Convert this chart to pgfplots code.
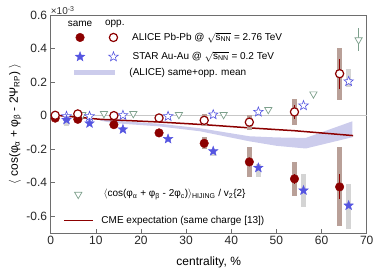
\documentclass[border=0pt]{standalone}
\usepackage{pgfplots}
\pgfplotsset{compat=1.18}
\usepackage{fontspec}
\setmainfont{Liberation Sans}
\definecolor{alice}{RGB}{140,0,0}
\definecolor{alicesys}{RGB}{185,160,152}
\definecolor{starc}{RGB}{85,85,225}
\definecolor{starsys}{RGB}{212,212,212}
\definecolor{hij}{RGB}{125,160,140}
\definecolor{bandc}{RGB}{204,204,236}
\definecolor{axgray}{RGB}{110,110,110}
\pgfdeclareplotmark{star5}{%
  \pgfpathmoveto{\pgfpointpolar{90}{\pgfplotmarksize}}%
  \pgfpathlineto{\pgfpointpolar{126}{0.42\pgfplotmarksize}}%
  \pgfpathlineto{\pgfpointpolar{162}{\pgfplotmarksize}}%
  \pgfpathlineto{\pgfpointpolar{198}{0.42\pgfplotmarksize}}%
  \pgfpathlineto{\pgfpointpolar{234}{\pgfplotmarksize}}%
  \pgfpathlineto{\pgfpointpolar{270}{0.42\pgfplotmarksize}}%
  \pgfpathlineto{\pgfpointpolar{306}{\pgfplotmarksize}}%
  \pgfpathlineto{\pgfpointpolar{342}{0.42\pgfplotmarksize}}%
  \pgfpathlineto{\pgfpointpolar{18}{\pgfplotmarksize}}%
  \pgfpathlineto{\pgfpointpolar{54}{0.42\pgfplotmarksize}}%
  \pgfpathclose
  \pgfusepathqfillstroke}

% ALICE: centrality, value, stat, syst half-width
\pgfplotstableread{
c v s b
1 -0.015 0.01 0.01
6 -0.022 0.01 0.01
14 -0.054 0.01 0.01
24 -0.103 0.01 0.012
34 -0.165 0.015 0.036
44 -0.276 0.02 0.09
54 -0.377 0.03 0.1
64 -0.425 0.075 0.235
}\alicesame
\pgfplotstableread{
c v s b
1 0.002 0.01 0.01
6 0.01 0.01 0.01
14 0.0 0.01 0.01
24 -0.014 0.01 0.012
34 -0.028 0.015 0.035
44 -0.039 0.02 0.045
54 0.022 0.04 0.08
64 0.25 0.09 0.155
}\aliceopp
% STAR: centrality, value, box centre, box half-width
\pgfplotstableread{
c v bc b
3.5 -0.025 -0.044 0.02
8.6 -0.046 -0.05 0.01
16 -0.082 -0.085 0.01
26 -0.139 -0.14 0.01
36 -0.212 -0.218 0.02
46 -0.311 -0.328 0.037
56 -0.446 -0.448 0.097
66 -0.536 -0.542 0.137
}\starsame
\pgfplotstableread{
c v bc b
3.5 -0.004 -0.004 0.005
8.6 -0.004 -0.004 0.005
16 0.002 0.002 0.005
26 -0.004 -0.004 0.005
36 0.006 0.006 0.005
46 0.022 0.022 0.005
56 0.06 0.06 0.005
66 0.204 0.224 0.054
}\staropp
\pgfplotstableread{
c v e
7.0 0.006 0
11.8 0.012 0
18.3 0.012 0
28.4 0.006 0
38.3 0.006 0
48.2 0.036 0
58.2 0.129 0
68.2 0.452 0.068
}\hijing

\begin{document}
\begin{tikzpicture}
\begin{axis}[name=ax,
  scale only axis, width=316pt, height=218pt,
  xmin=0, xmax=70, ymin=-0.7, ymax=0.6,
  xtick={0,10,...,70}, ytick={-0.6,-0.4,-0.2,0,0.2,0.4,0.6},
  tick align=inside, major tick length=4pt,
  tick style={axgray, line width=0.6pt}, tick pos=left,
  axis line style={axgray, line width=0.8pt},
  ticklabel style={font=\fontsize{12}{14}\selectfont, text=black!85},
  /pgf/number format/assume math mode=true,
  xlabel={centrality, \%},
  xlabel style={font=\fontsize{12}{14}\selectfont, at={(axis description cs:0.5,-0.136)}, anchor=center},
  ylabel={$\langle$ cos(φ\textsubscript{α} + φ\textsubscript{β} - 2Ψ\textsubscript{RP}) $\rangle$},
  ylabel style={font=\fontsize{12}{14}\selectfont, at={(axis description cs:-0.113,0.5)}, anchor=center},
  clip=false,
  errbar/.style 2 args={draw=none, no markers, forget plot,
    error bars/.cd, y dir=both, y explicit, error mark=none,
    error bar style={draw=#1, line width=#2}},
]
% band: (ALICE) same+opp. mean
\addplot[fill=bandc, draw=none, forget plot] coordinates {
 (11,-0.022) (14,-0.03) (24,-0.048) (33,-0.075) (44,-0.123) (50,-0.13) (56.5,-0.133) (66.8,-0.034)
 (66.8,-0.129) (56.5,-0.196) (50,-0.18) (44,-0.153) (33,-0.093) (24,-0.064) (14,-0.045) (11,-0.03)};
\draw[black!22, line width=0.8pt] (axis cs:0,0) -- (axis cs:70,0);
% CME expectation
\addplot[alice, line width=1.5pt, forget plot] coordinates {
 (2,0) (11,-0.022) (24,-0.038) (34,-0.054) (44,-0.073) (54,-0.09) (67,-0.119)};
% systematic boxes
\addplot[errbar={starsys}{5pt}] table[x=c, y=bc, y error=b] {\starsame};
\addplot[errbar={starsys}{5pt}] table[x=c, y=bc, y error=b] {\staropp};
\addplot[errbar={alicesys}{5pt}] table[x=c, y=v, y error=b] {\alicesame};
\addplot[errbar={alicesys}{5pt}] table[x=c, y=v, y error=b] {\aliceopp};
% statistical bars (drawn under the markers)
\addplot[errbar={alice}{1pt}] table[x=c, y=v, y error=s] {\alicesame};
\addplot[errbar={alice}{1pt}] table[x=c, y=v, y error=s] {\aliceopp};
\addplot[errbar={hij}{0.8pt}] table[x=c, y=v, y error=e] {\hijing};
% HIJING
\addplot[only marks, mark=triangle*, mark size=4.2pt,
  mark options={rotate=180, draw=hij, fill=white, line width=0.7pt}]
  table[x=c, y=v] {\hijing};
% STAR
\addplot[only marks, mark=star5, mark size=5pt,
  mark options={draw=starc, fill=white, line width=0.6pt}] table[x=c, y=v] {\staropp};
\addplot[only marks, mark=star5, mark size=5pt,
  mark options={draw=starc, fill=starc, line width=0.4pt}] table[x=c, y=v] {\starsame};
% ALICE
\addplot[only marks, mark=*, mark size=4.3pt,
  mark options={draw=alice, fill=alice}]
  table[x=c, y=v] {\alicesame};
\addplot[only marks, mark=*, mark size=4.1pt,
  mark options={draw=alice, fill=white, line width=1.2pt}]
  table[x=c, y=v] {\aliceopp};
% legend glyphs
\addplot[only marks, mark=*, mark size=4.3pt, mark options={draw=alice, fill=alice}, forget plot]
  coordinates {(6.5,0.466)};
\addplot[only marks, mark=*, mark size=4.1pt, mark options={draw=alice, fill=white, line width=1.2pt}, forget plot]
  coordinates {(13.9,0.466)};
\addplot[only marks, mark=star5, mark size=5pt, mark options={draw=starc, fill=starc, line width=0.4pt}, forget plot]
  coordinates {(6.5,0.351)};
\addplot[only marks, mark=star5, mark size=5pt, mark options={draw=starc, fill=white, line width=0.6pt}, forget plot]
  coordinates {(13.9,0.351)};
\addplot[bandc, line width=5pt, forget plot] coordinates {(5.2,0.256) (14.3,0.256)};
\addplot[only marks, mark=triangle*, mark size=4.2pt, mark options={rotate=180, draw=hij, fill=white, line width=0.7pt}, forget plot]
  coordinates {(6.1,-0.47)};
\addplot[alice, line width=1.8pt, forget plot] coordinates {(2.9,-0.625) (9.3,-0.625)};
% legend texts
\node[font=\fontsize{10}{12}\selectfont] at (axis cs:6.5,0.55) {same};
\node[font=\fontsize{10}{12}\selectfont] at (axis cs:14.2,0.55) {opp.};
\node[anchor=west, font=\fontsize{10}{12}\selectfont, inner sep=0pt] at (axis cs:18,0.466)
  {ALICE Pb-Pb @ $\sqrt{\mbox{s\textsubscript{NN}}}$ = 2.76 TeV};
\node[anchor=west, font=\fontsize{10}{12}\selectfont, inner sep=0pt] at (axis cs:18.1,0.351)
  {STAR Au-Au @ $\sqrt{\mbox{s\textsubscript{NN}}}$ = 0.2 TeV};
\node[anchor=west, font=\fontsize{10}{12}\selectfont, inner sep=0pt] at (axis cs:17.4,0.256)
  {(ALICE) same+opp. mean};
\node[anchor=west, font=\fontsize{10}{12}\selectfont, inner sep=0pt] at (axis cs:11.7,-0.47)
  {$\langle$cos(φ\textsubscript{α} + φ\textsubscript{β} - 2φ\textsubscript{c})$\rangle$\textsubscript{HIJING} / v\textsubscript{2}\{2\}};
\node[anchor=west, font=\fontsize{10}{12}\selectfont, inner sep=0pt] at (axis cs:11.2,-0.625)
  {CME expectation (same charge [13])};
\node[anchor=south west, font=\fontsize{10}{12}\selectfont, text=black!80, inner sep=0pt] at (rel axis cs:0,1)
  {×10\textsuperscript{-3}};
\end{axis}
\pgfresetboundingbox
\path (ax.south west) ++(-50.7pt,-39pt) coordinate (bbA);
\path (ax.north east) ++(7.3pt,15pt) coordinate (bbB);
\path (bbA) rectangle (bbB);
\end{tikzpicture}
\end{document}
